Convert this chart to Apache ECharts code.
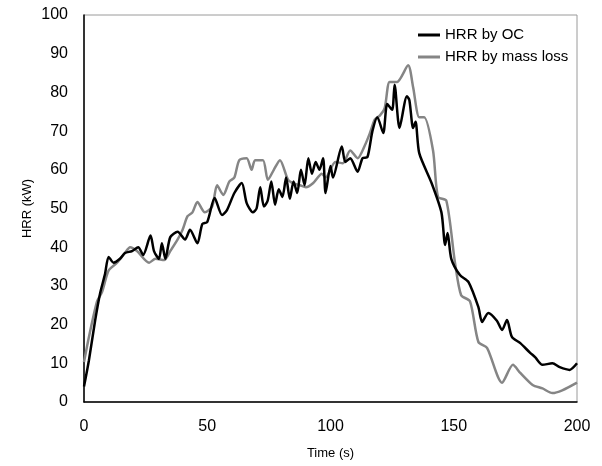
<!DOCTYPE html>
<html>
<head>
<meta charset="utf-8">
<script src="https://cdn.jsdelivr.net/npm/echarts@6/dist/echarts.min.js"></script>
<style>
  html, body { margin: 0; padding: 0; background: #fff; }
  #chart { width: 602px; height: 466px; }
</style>
</head>
<body>
<div id="chart"></div>
<script>
// HRR by oxygen consumption (black)
const ocTime = [0, 2, 4.5, 6.5, 8.5, 10, 12, 14.6, 16.6, 19.5, 22, 24, 27, 28.4, 30.4, 31.6, 33, 35,
    38, 41, 43, 46, 48, 50, 53, 56, 58, 61, 64, 66, 68.5, 70, 71.5, 73, 74.5, 76, 77.5, 79, 80.5,
    82, 83.5, 85, 86.5, 88, 89.5, 91, 92.5, 94, 95.5, 97, 98, 100, 101, 104.6, 106, 108, 111, 113,
    115, 117, 119, 121.4, 123, 125, 126, 128, 131, 132, 133.5, 134.5, 136, 141, 145, 146.5, 147.5,
    149, 152.5, 156, 160, 161.5, 164, 167.5, 169.6, 171.6, 173.6, 177, 181, 183, 186, 190, 193,
    197, 200];
const ocValue = [4, 10.8, 21, 28, 33, 37.5, 36, 37, 38.5, 39, 40, 38, 43, 39, 37, 41, 37, 42.6,
    44, 42, 44.5, 41, 46, 46.5, 52.7, 48.3, 49.6, 54, 56.6, 51.4, 49, 50, 55.5, 50.5, 52, 57, 51,
    55, 53, 58, 52.5, 57, 54, 60, 56, 63, 59, 62, 60, 63, 54, 61, 58, 66, 62, 63, 59.5, 63,
    63.3, 70, 73.6, 69.5, 77, 75.5, 82, 70.8, 79, 78, 70.8, 72.4, 64.3, 56.6, 49, 40.6, 43.7,
    37, 32.8, 31, 24.5, 20.7, 23, 21, 18.6, 21.2, 16.8, 15.2, 12.7, 11.6, 9.6, 10, 9,
    8.3, 10];

// HRR by mass loss (grey)
const massTime = [0, 2, 5.3, 7.3, 10, 13.4, 16.6, 18.7, 21.5, 26.4, 29, 32.5, 35, 38, 40, 42, 44,
    46, 49, 52, 54, 56.5, 59, 61, 63, 66, 68, 69.4, 72.6, 74.6, 77, 79.5, 82.8, 85, 87.6, 90, 93,
    96.5, 98, 102, 105, 108, 111, 114, 116, 118, 120, 122, 124, 127, 131.5, 133.5, 136, 138, 141.6,
    143.6, 147, 150.5, 153, 156.6, 160, 163.5, 169.6, 174, 177, 182, 186, 190, 194, 200];
const massValue = [10.3, 16.8, 26, 28.4, 34, 36, 38.5, 40, 39, 36, 37, 36.7, 39, 42, 44.5, 48, 49,
    51.7, 49, 50.5, 56, 53.5, 57, 58, 62.5, 63, 60, 62.5, 62.5, 57.4, 60, 62.5, 57.4, 56.5, 56, 55.5, 56.6,
    59, 58, 62, 61.7, 65, 63, 66.4, 69.5, 73, 74, 76, 82.7, 82.7, 87, 81.4, 73.6, 73.6, 65,
    53, 52, 36, 27.6, 26, 15.5, 14, 5, 9.6, 7.5, 4.4, 3.5, 2.3, 3, 5];

const xTicks = { min: 0, max: 200, interval: 50 };
const yTicks = { min: 0, max: 100, interval: 10 };

function pairs(ts, vs) {
    return ts.map((t, i) => [t, vs[i]]);
}

const font = 'Liberation Sans, Arial, sans-serif';
const chart = echarts.init(document.getElementById('chart'));

chart.setOption({
    animation: false,
    backgroundColor: '#fff',
    grid: {
        left: 84, right: 25, top: 15, bottom: 64,
        show: true, borderColor: '#9a9a9a', borderWidth: 1
    },
    legend: {
        orient: 'vertical',
        left: 413, top: 22,
        itemWidth: 22, itemHeight: 3, itemGap: 6,
        icon: 'rect',
        textStyle: { fontFamily: font, fontSize: 15, color: '#000', lineHeight: 16 },
        data: ['HRR by OC', 'HRR by mass loss']
    },
    xAxis: {
        type: 'value',
        min: xTicks.min, max: xTicks.max, interval: xTicks.interval,
        name: 'Time (s)', nameLocation: 'middle', nameGap: 45, nameMoveOverlap: false,
        nameTextStyle: { fontFamily: font, fontSize: 13, color: '#000' },
        axisLine: { lineStyle: { color: '#000', width: 1.5 } },
        axisTick: { show: false },
        splitLine: { show: false },
        axisLabel: { fontFamily: font, fontSize: 16, color: '#000', margin: 17 }
    },
    yAxis: {
        type: 'value',
        min: yTicks.min, max: yTicks.max, interval: yTicks.interval,
        name: 'HRR (kW)', nameLocation: 'middle', nameGap: 50, nameRotate: 90, nameMoveOverlap: false,
        nameTextStyle: { fontFamily: font, fontSize: 13, color: '#000' },
        axisLine: { show: true, lineStyle: { color: '#000', width: 1.5 } },
        axisTick: { show: false },
        splitLine: { show: false },
        axisLabel: { fontFamily: font, fontSize: 16, color: '#000', margin: 16 }
    },
    series: [
        {
            name: 'HRR by OC', type: 'line', showSymbol: false, smooth: 0.25,
            color: '#000',
            lineStyle: { color: '#000', width: 2.5 },
            data: pairs(ocTime, ocValue), z: 3
        },
        {
            name: 'HRR by mass loss', type: 'line', showSymbol: false, smooth: 0.25,
            color: '#858585',
            lineStyle: { color: '#858585', width: 2.5 },
            data: pairs(massTime, massValue), z: 2
        }
    ]
});
</script>
</body>
</html>
